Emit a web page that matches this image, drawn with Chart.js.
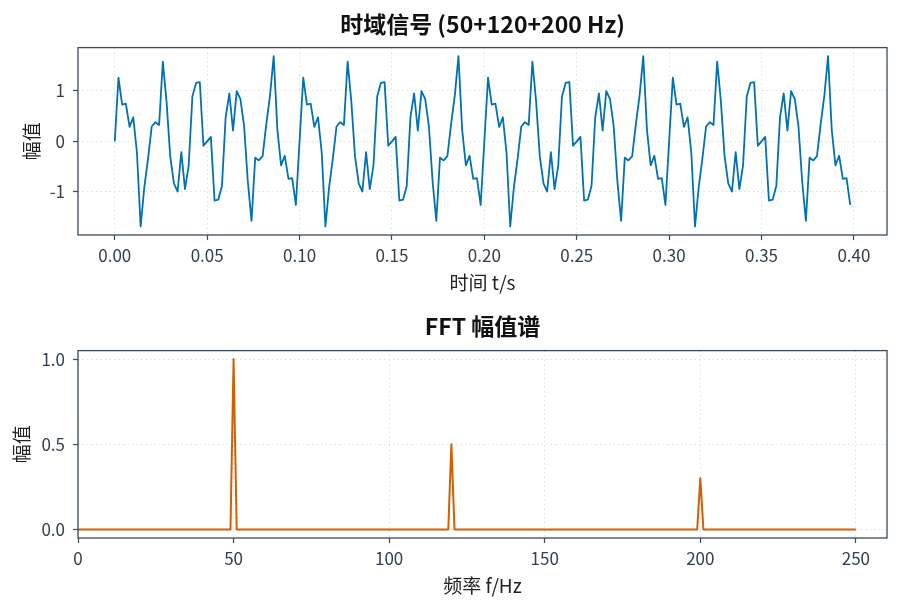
<!DOCTYPE html>
<html lang="zh">
<head>
<meta charset="utf-8">
<title>时域信号与FFT幅值谱</title>
<script src="https://cdn.jsdelivr.net/npm/chart.js@4.4.1/dist/chart.umd.min.js"></script>
<style>
    html, body { margin: 0; padding: 0; background: #fff; }
    #wrap { position: relative; width: 900px; height: 609px; }
    #wrap canvas { position: absolute; left: 0; }
    #timeChart { top: 0; }
    #fftChart { top: 300px; }
</style>
</head>
<body>
<div id="wrap">
    <canvas id="timeChart" width="900" height="300"></canvas>
    <canvas id="fftChart" width="900" height="309"></canvas>
</div>
<script>
// tiempo de muestreo (s)
var timeS = [
    0.000, 0.002, 0.004, 0.006, 0.008, 0.010, 0.012, 0.014, 0.016, 0.018,
    0.020, 0.022, 0.024, 0.026, 0.028, 0.030, 0.032, 0.034, 0.036, 0.038,
    0.040, 0.042, 0.044, 0.046, 0.048, 0.050, 0.052, 0.054, 0.056, 0.058,
    0.060, 0.062, 0.064, 0.066, 0.068, 0.070, 0.072, 0.074, 0.076, 0.078,
    0.080, 0.082, 0.084, 0.086, 0.088, 0.090, 0.092, 0.094, 0.096, 0.098,
    0.100, 0.102, 0.104, 0.106, 0.108, 0.110, 0.112, 0.114, 0.116, 0.118,
    0.120, 0.122, 0.124, 0.126, 0.128, 0.130, 0.132, 0.134, 0.136, 0.138,
    0.140, 0.142, 0.144, 0.146, 0.148, 0.150, 0.152, 0.154, 0.156, 0.158,
    0.160, 0.162, 0.164, 0.166, 0.168, 0.170, 0.172, 0.174, 0.176, 0.178,
    0.180, 0.182, 0.184, 0.186, 0.188, 0.190, 0.192, 0.194, 0.196, 0.198,
    0.200, 0.202, 0.204, 0.206, 0.208, 0.210, 0.212, 0.214, 0.216, 0.218,
    0.220, 0.222, 0.224, 0.226, 0.228, 0.230, 0.232, 0.234, 0.236, 0.238,
    0.240, 0.242, 0.244, 0.246, 0.248, 0.250, 0.252, 0.254, 0.256, 0.258,
    0.260, 0.262, 0.264, 0.266, 0.268, 0.270, 0.272, 0.274, 0.276, 0.278,
    0.280, 0.282, 0.284, 0.286, 0.288, 0.290, 0.292, 0.294, 0.296, 0.298,
    0.300, 0.302, 0.304, 0.306, 0.308, 0.310, 0.312, 0.314, 0.316, 0.318,
    0.320, 0.322, 0.324, 0.326, 0.328, 0.330, 0.332, 0.334, 0.336, 0.338,
    0.340, 0.342, 0.344, 0.346, 0.348, 0.350, 0.352, 0.354, 0.356, 0.358,
    0.360, 0.362, 0.364, 0.366, 0.368, 0.370, 0.372, 0.374, 0.376, 0.378,
    0.380, 0.382, 0.384, 0.386, 0.388, 0.390, 0.392, 0.394, 0.396, 0.398
];

// señal en el tiempo (amplitud)
var signal = [
    0.000, 1.263, 0.729, 0.745, 0.287, 0.476, -0.227, -1.689, -0.907, -0.342,
    0.294, 0.379, 0.324, 1.579, 0.797, -0.294, -0.834, -0.996, -0.213, -0.948,
    -0.476, 0.888, 1.157, 1.174, -0.088, 0.000, 0.088, -1.174, -1.157, -0.888,
    0.476, 0.948, 0.213, 0.996, 0.834, 0.294, -0.797, -1.579, -0.324, -0.379,
    -0.294, 0.342, 0.907, 1.689, 0.227, -0.476, -0.287, -0.745, -0.729, -1.263,
    0.000, 1.263, 0.729, 0.745, 0.287, 0.476, -0.227, -1.689, -0.907, -0.342,
    0.294, 0.379, 0.324, 1.579, 0.797, -0.294, -0.834, -0.996, -0.213, -0.948,
    -0.476, 0.888, 1.157, 1.174, -0.088, 0.000, 0.088, -1.174, -1.157, -0.888,
    0.476, 0.948, 0.213, 0.996, 0.834, 0.294, -0.797, -1.579, -0.324, -0.379,
    -0.294, 0.342, 0.907, 1.689, 0.227, -0.476, -0.287, -0.745, -0.729, -1.263,
    0.000, 1.263, 0.729, 0.745, 0.287, 0.476, -0.227, -1.689, -0.907, -0.342,
    0.294, 0.379, 0.324, 1.579, 0.797, -0.294, -0.834, -0.996, -0.213, -0.948,
    -0.476, 0.888, 1.157, 1.174, -0.088, 0.000, 0.088, -1.174, -1.157, -0.888,
    0.476, 0.948, 0.213, 0.996, 0.834, 0.294, -0.797, -1.579, -0.324, -0.379,
    -0.294, 0.342, 0.907, 1.689, 0.227, -0.476, -0.287, -0.745, -0.729, -1.263,
    0.000, 1.263, 0.729, 0.745, 0.287, 0.476, -0.227, -1.689, -0.907, -0.342,
    0.294, 0.379, 0.324, 1.579, 0.797, -0.294, -0.834, -0.996, -0.213, -0.948,
    -0.476, 0.888, 1.157, 1.174, -0.088, 0.000, 0.088, -1.174, -1.157, -0.888,
    0.476, 0.948, 0.213, 0.996, 0.834, 0.294, -0.797, -1.579, -0.324, -0.379,
    -0.294, 0.342, 0.907, 1.689, 0.227, -0.476, -0.287, -0.745, -0.729, -1.263
];

var timeTicks = [0, 0.05, 0.1, 0.15, 0.2, 0.25, 0.3, 0.35, 0.4];
var ampTicks = [-1, 0, 1];

// espectro FFT (resolucion 1 Hz)
var freqHz = [
    0, 1, 2, 3, 4, 5, 6, 7, 8, 9,
    10, 11, 12, 13, 14, 15, 16, 17, 18, 19,
    20, 21, 22, 23, 24, 25, 26, 27, 28, 29,
    30, 31, 32, 33, 34, 35, 36, 37, 38, 39,
    40, 41, 42, 43, 44, 45, 46, 47, 48, 49,
    50, 51, 52, 53, 54, 55, 56, 57, 58, 59,
    60, 61, 62, 63, 64, 65, 66, 67, 68, 69,
    70, 71, 72, 73, 74, 75, 76, 77, 78, 79,
    80, 81, 82, 83, 84, 85, 86, 87, 88, 89,
    90, 91, 92, 93, 94, 95, 96, 97, 98, 99,
    100, 101, 102, 103, 104, 105, 106, 107, 108, 109,
    110, 111, 112, 113, 114, 115, 116, 117, 118, 119,
    120, 121, 122, 123, 124, 125, 126, 127, 128, 129,
    130, 131, 132, 133, 134, 135, 136, 137, 138, 139,
    140, 141, 142, 143, 144, 145, 146, 147, 148, 149,
    150, 151, 152, 153, 154, 155, 156, 157, 158, 159,
    160, 161, 162, 163, 164, 165, 166, 167, 168, 169,
    170, 171, 172, 173, 174, 175, 176, 177, 178, 179,
    180, 181, 182, 183, 184, 185, 186, 187, 188, 189,
    190, 191, 192, 193, 194, 195, 196, 197, 198, 199,
    200, 201, 202, 203, 204, 205, 206, 207, 208, 209,
    210, 211, 212, 213, 214, 215, 216, 217, 218, 219,
    220, 221, 222, 223, 224, 225, 226, 227, 228, 229,
    230, 231, 232, 233, 234, 235, 236, 237, 238, 239,
    240, 241, 242, 243, 244, 245, 246, 247, 248, 249,
    250
];

var fftMag = [
    0, 0, 0, 0, 0, 0, 0, 0, 0, 0,
    0, 0, 0, 0, 0, 0, 0, 0, 0, 0,
    0, 0, 0, 0, 0, 0, 0, 0, 0, 0,
    0, 0, 0, 0, 0, 0, 0, 0, 0, 0,
    0, 0, 0, 0, 0, 0, 0, 0, 0, 0,
    1.0, 0, 0, 0, 0, 0, 0, 0, 0, 0,
    0, 0, 0, 0, 0, 0, 0, 0, 0, 0,
    0, 0, 0, 0, 0, 0, 0, 0, 0, 0,
    0, 0, 0, 0, 0, 0, 0, 0, 0, 0,
    0, 0, 0, 0, 0, 0, 0, 0, 0, 0,
    0, 0, 0, 0, 0, 0, 0, 0, 0, 0,
    0, 0, 0, 0, 0, 0, 0, 0, 0, 0,
    0.5, 0, 0, 0, 0, 0, 0, 0, 0, 0,
    0, 0, 0, 0, 0, 0, 0, 0, 0, 0,
    0, 0, 0, 0, 0, 0, 0, 0, 0, 0,
    0, 0, 0, 0, 0, 0, 0, 0, 0, 0,
    0, 0, 0, 0, 0, 0, 0, 0, 0, 0,
    0, 0, 0, 0, 0, 0, 0, 0, 0, 0,
    0, 0, 0, 0, 0, 0, 0, 0, 0, 0,
    0, 0, 0, 0, 0, 0, 0, 0, 0, 0,
    0.3, 0, 0, 0, 0, 0, 0, 0, 0, 0,
    0, 0, 0, 0, 0, 0, 0, 0, 0, 0,
    0, 0, 0, 0, 0, 0, 0, 0, 0, 0,
    0, 0, 0, 0, 0, 0, 0, 0, 0, 0,
    0, 0, 0, 0, 0, 0, 0, 0, 0, 0,
    0
];

var freqTicks = [0, 50, 100, 150, 200, 250];
var magTicks = [0, 0.5, 1];

var FONT = '"Noto Sans CJK SC", "Noto Sans", sans-serif';
var spineColor = '#3a4a5c';
var labelColor = '#333f4f';
var gridColor = '#d6dce4';

// marco completo del area de datos
var marcoEjes = {
    id: 'marcoEjes',
    afterDatasetsDraw: function (chart) {
        var a = chart.chartArea;
        var ctx = chart.ctx;
        ctx.save();
        ctx.strokeStyle = spineColor;
        ctx.lineWidth = 1.3;
        ctx.strokeRect(a.left, a.top, a.right - a.left, a.bottom - a.top);
        ctx.restore();
    }
};

function ticksFijos(valores) {
    return function (scale) {
        scale.ticks = valores.map(function (v) { return { value: v }; });
    };
}

function ejeX(min, max, lista, formato, alto, titulo, padTitulo) {
    return {
        type: 'linear',
        min: min,
        max: max,
        afterBuildTicks: ticksFijos(lista),
        afterFit: function (s) { s.height = alto; },
        ticks: {
            color: labelColor,
            font: { family: FONT, size: 17 },
            padding: 5,
            maxRotation: 0,
            autoSkip: false,
            callback: formato
        },
        grid: { color: gridColor, lineWidth: 0.9, tickColor: spineColor, tickLength: 5, tickWidth: 1.2 },
        border: { display: false, dash: [1.5, 3] },
        title: {
            display: true,
            text: titulo,
            color: '#222',
            font: { family: FONT, size: 19 },
            padding: { top: 0, bottom: padTitulo }
        }
    };
}

function ejeY(min, max, lista, formato, titulo, padTitulo) {
    return {
        min: min,
        max: max,
        afterBuildTicks: ticksFijos(lista),
        afterFit: function (s) { s.width = 78; },
        ticks: {
            color: labelColor,
            font: { family: FONT, size: 17 },
            padding: 8,
            autoSkip: false,
            callback: formato
        },
        grid: { color: gridColor, lineWidth: 0.9, tickColor: spineColor, tickLength: 5, tickWidth: 1.2 },
        border: { display: false, dash: [1.5, 3] },
        title: {
            display: true,
            text: titulo,
            color: '#222',
            font: { family: FONT, size: 19 },
            padding: { top: padTitulo, bottom: 0 }
        }
    };
}

function tituloGrafico(texto, padTop, padBottom) {
    return {
        display: true,
        fullSize: false,
        text: texto,
        color: '#111',
        font: { family: FONT, size: 23, weight: 'bold', lineHeight: 1.2 },
        padding: { top: padTop, bottom: padBottom }
    };
}

var timeChart = new Chart(document.getElementById('timeChart').getContext('2d'), {
    type: 'line',
    data: {
        datasets: [{
            data: timeS.map(function (t, i) { return { x: t, y: signal[i] }; }),
            borderColor: '#0072B2',
            borderWidth: 1.8,
            borderJoinStyle: 'round',
            pointRadius: 0,
            tension: 0,
            fill: false
        }]
    },
    options: {
        responsive: false,
        animation: false,
        layout: { padding: { left: 0, right: 13, top: 0, bottom: 0 } },
        plugins: {
            legend: { display: false },
            tooltip: { enabled: false },
            title: tituloGrafico('时域信号 (50+120+200 Hz)', 10, 10)
        },
        scales: {
            x: ejeX(-0.0199, 0.4179, timeTicks, function (v) { return v.toFixed(2); }, 65, '时间 t/s', 6),
            y: ejeY(-1.858, 1.858, ampTicks, function (v) { return String(v); }, '幅值', 20)
        }
    },
    plugins: [marcoEjes]
});

var fftChart = new Chart(document.getElementById('fftChart').getContext('2d'), {
    type: 'line',
    data: {
        datasets: [{
            data: freqHz.map(function (f, i) { return { x: f, y: fftMag[i] }; }),
            borderColor: '#D55E00',
            borderWidth: 2,
            borderJoinStyle: 'round',
            pointRadius: 0,
            tension: 0,
            fill: false
        }]
    },
    options: {
        responsive: false,
        animation: false,
        layout: { padding: { left: 0, right: 13, top: 0, bottom: 0 } },
        plugins: {
            legend: { display: false },
            tooltip: { enabled: false },
            title: tituloGrafico('FFT 幅值谱', 12, 11)
        },
        scales: {
            x: ejeX(0, 260, freqTicks, function (v) { return String(v); }, 71, '频率 f/Hz', 12),
            y: ejeY(-0.05, 1.05, magTicks, function (v) { return v.toFixed(1); }, '幅值', 10)
        }
    },
    plugins: [marcoEjes]
});
</script>
</body>
</html>
